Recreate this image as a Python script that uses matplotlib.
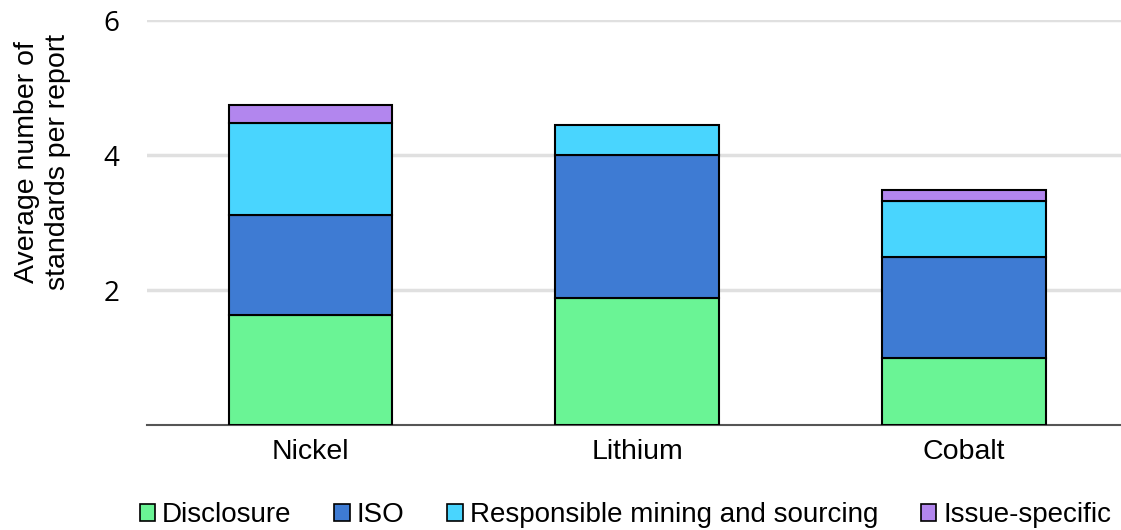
import matplotlib.pyplot as plt
import numpy as np

categories = ['Nickel', 'Lithium', 'Cobalt']
series = ['Disclosure', 'ISO', 'Responsible mining and sourcing', 'Issue-specific']
disclosure = [1.63, 1.88, 1.00]
iso = [1.49, 2.12, 1.49]
responsible = [1.36, 0.44, 0.83]
issue = [0.26, 0.0, 0.17]
colors = ['#6af495', '#3e7bd3', '#49d5fe', '#b286ee']
yticks = [2, 4, 6]

plt.rcParams['font.family'] = ['Liberation Sans', 'DejaVu Sans']

fig = plt.figure(figsize=(11.21, 5.30), dpi=100)
ax = fig.add_axes([0.131, 0.198, 0.869, 0.764])

x = np.arange(len(categories))
bottom = np.zeros(len(categories))
for name, vals, c in zip(series, [disclosure, iso, responsible, issue], colors):
    vals = np.array(vals)
    mask = vals > 0
    ax.bar(x[mask], vals[mask], width=0.5, bottom=bottom[mask], color=c,
           edgecolor='black', linewidth=1.5, label=name, zorder=3)
    bottom += vals

ax.set_xlim(-0.5, 2.48)
ax.set_ylim(0, 6)
ax.set_yticks(yticks)
ax.set_yticklabels([str(t) for t in yticks], family='Open Sans', fontsize=20)
ax.set_xticks(x)
ax.set_xticklabels(categories, fontsize=20.5)
ax.tick_params(axis='x', length=0, pad=10)
ax.tick_params(axis='y', length=0, pad=20)
ax.yaxis.grid(True, color='#e0e0e0', linewidth=2.5, zorder=0)
for s in ['top', 'right', 'left']:
    ax.spines[s].set_visible(False)
ax.spines['bottom'].set_color('#555555')
ax.spines['bottom'].set_linewidth(1.5)
ax.set_ylabel('Average number of\nstandards per report', fontsize=20.5, linespacing=1.25)
ax.yaxis.set_label_coords(-0.078, 0.65)

leg = fig.legend(loc='lower center', bbox_to_anchor=(0.558, -0.044), ncol=4, frameon=False,
                 fontsize=20, handlelength=0.55, handleheight=0.55, handletextpad=0.25,
                 columnspacing=1.55)
for h in leg.legend_handles:
    h.set_linewidth(1.2)

fig.savefig('out.png', dpi=100)
